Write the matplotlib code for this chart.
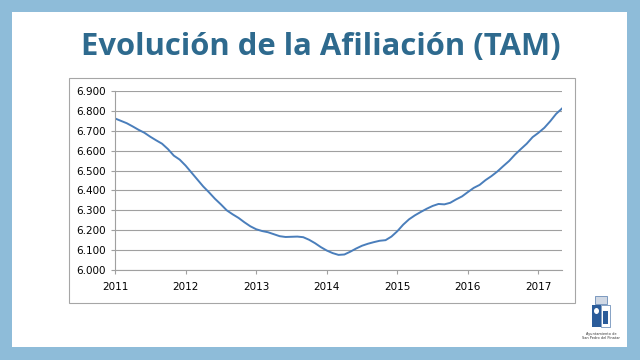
import matplotlib
matplotlib.use("Agg")
import matplotlib.pyplot as plt
from matplotlib.patches import Rectangle, Ellipse
from matplotlib.ticker import FuncFormatter

# TAM afiliación, monthly from Jan 2011 to May 2017 (thousands)
start_year = 2011
values = [
    6.762, 6.750, 6.738, 6.722, 6.705, 6.690, 6.670, 6.652, 6.635, 6.608, 6.575, 6.555,
    6.525, 6.490, 6.455, 6.420, 6.390, 6.358, 6.330, 6.300, 6.280, 6.262, 6.240, 6.220,
    6.205, 6.196, 6.190, 6.180, 6.170, 6.166, 6.167, 6.168, 6.165, 6.152, 6.135, 6.115,
    6.098, 6.085, 6.076, 6.078, 6.092, 6.108, 6.122, 6.132, 6.140, 6.147, 6.150, 6.168,
    6.195, 6.228, 6.255, 6.275, 6.292, 6.308, 6.322, 6.332, 6.330, 6.338, 6.355, 6.370,
    6.392, 6.413, 6.428, 6.452, 6.472, 6.495, 6.522, 6.548, 6.580, 6.608, 6.635, 6.668,
    6.690, 6.715, 6.748, 6.785, 6.812,
]
x = [start_year + i / 12 for i in range(len(values))]

years = [2011, 2012, 2013, 2014, 2015, 2016, 2017]
yticks = [6.0, 6.1, 6.2, 6.3, 6.4, 6.5, 6.6, 6.7, 6.8, 6.9]

W, H = 640, 360
fig = plt.figure(figsize=(6.4, 3.6), dpi=100)
fig.patch.set_facecolor("#8ebcd9")


def box(x0, y0, x1, y1, **kw):
    # rectangle given in pixel coords (top-left origin)
    fig.patches.append(Rectangle((x0 / W, 1 - y1 / H), (x1 - x0) / W, (y1 - y0) / H,
                                 transform=fig.transFigure, **kw))


# white slide + chart frame
box(12, 12, 627, 347, facecolor="white", edgecolor="none", zorder=-10)
box(69, 78, 575, 303, facecolor="white", edgecolor="#a6a6a6", linewidth=0.8, zorder=-9)

fig.text(321 / W, 1 - 47 / H, "Evolución de la Afiliación (TAM)", ha="center", va="center",
         fontsize=22.3, fontweight="bold", color="#2e6a8e", family="Open Sans")

ax = fig.add_axes([115 / W, 1 - 270 / H, (562 - 115) / W, (270 - 91) / H])
ax.set_facecolor("white")
ax.plot(x, values, color="#4a7ebb", linewidth=1.4)
ax.set_xlim(2011, 2011 + 76 / 12)
ax.set_ylim(6.0, 6.9)
ax.set_xticks(years)
ax.set_yticks(yticks)
ax.yaxis.set_major_formatter(FuncFormatter(lambda v, p: f"{v:.3f}"))
ax.grid(axis="y", color="#a0a0a0", linewidth=0.8)
ax.set_axisbelow(True)
for s in ["top", "right"]:
    ax.spines[s].set_visible(False)
ax.spines["left"].set_color("#a0a0a0")
ax.spines["bottom"].set_color("#a0a0a0")
ax.tick_params(axis="both", labelsize=7.5, colors="#a0a0a0", labelcolor="black", length=3)
ax.tick_params(axis="x", pad=6)

# rough logo: crown + shield + caption
box(595, 296, 607, 304, facecolor="#d0d8e4", edgecolor="#2b5c9a", linewidth=0.4)
box(592, 305, 601, 327, facecolor="#2b5c9a", edgecolor="none")
box(601, 305, 610, 327, facecolor="white", edgecolor="#2b5c9a", linewidth=0.4)
fig.patches.append(Ellipse((596.5 / W, 1 - 311 / H), 5 / W, 6 / H, transform=fig.transFigure,
                           facecolor="white", edgecolor="none"))
box(603, 311, 608, 324, facecolor="#2b5c9a", edgecolor="none")
fig.text(601 / W, 1 - 336 / H, "Ayuntamiento de\nSan Pedro del Pinatar", ha="center", va="center",
         fontsize=2.5, color="#333333", linespacing=1.1)

fig.savefig("out.png", dpi=100, facecolor=fig.get_facecolor())
